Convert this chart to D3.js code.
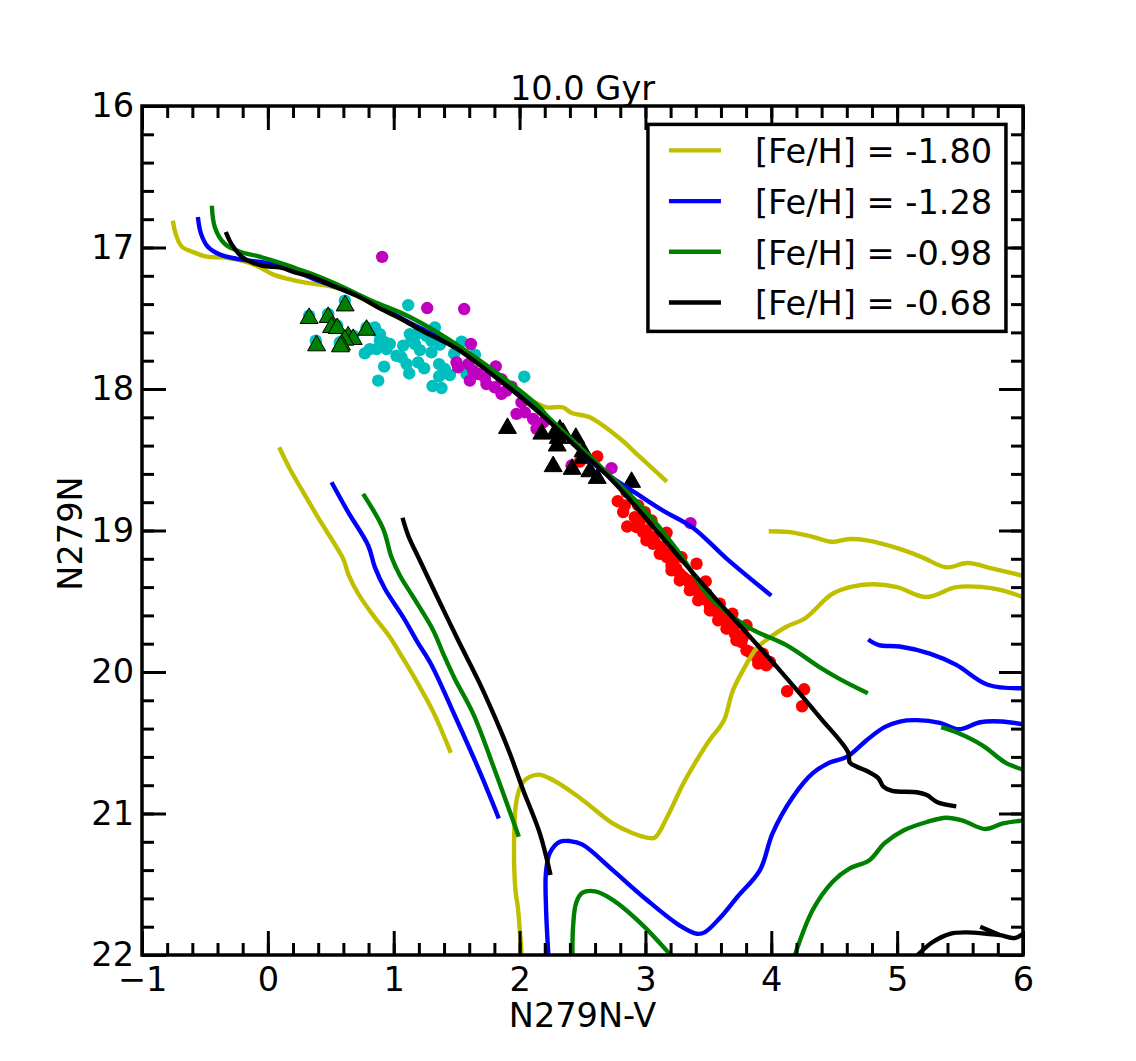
<!DOCTYPE html>
<html>
<head>
<meta charset="utf-8">
<script src="https://cdn.jsdelivr.net/npm/d3@7"></script>
<style>
  html, body { margin: 0; background: #fff; }
  text { font-family: "DejaVu Sans", sans-serif; fill: #000; }
</style>
</head>
<body>
<div id="chart"></div>
<script>
// isochrones, [colour index, magnitude]
const feh180Ms = [[0.09,18.412],[0.175,18.565],[0.281,18.729],[0.413,18.929],[0.546,19.118],[0.604,19.212],[0.638,19.306],[0.718,19.447],[0.837,19.6],[0.969,19.753],[1.075,19.906],[1.181,20.065],[1.313,20.28],[1.454,20.572]];
const feh180Main = [[-0.755,16.81],[-0.73,16.91],[-0.683,16.995],[-0.6,17.03],[-0.485,17.065],[-0.357,17.07],[-0.222,17.09],[-0.087,17.13],[0.04,17.19],[0.15,17.22],[0.31,17.25],[0.47,17.27],[0.63,17.31],[0.89,17.43],[1.23,17.58],[1.5,17.7],[1.764,17.87],[2.0,18.04],[2.137,18.1],[2.217,18.13],[2.344,18.13],[2.415,18.17],[2.558,18.2],[2.797,18.35],[2.956,18.48],[3.17,18.654]];
const feh180Low = [[2.018,22.02],[1.986,21.66],[1.967,21.54],[1.957,21.165],[1.976,20.906],[2.029,20.776],[2.148,20.725],[2.268,20.765],[2.48,20.89],[2.74,21.07],[2.9,21.14],[3.01,21.17],[3.075,21.17],[3.17,21.03],[3.3,20.79],[3.41,20.62],[3.51,20.48],[3.59,20.39],[3.63,20.33],[3.695,20.13],[3.774,19.99],[3.885,19.83],[3.99,19.755],[4.12,19.68],[4.27,19.62],[4.425,19.49],[4.49,19.445],[4.65,19.395],[4.81,19.38],[5.0,19.4],[5.23,19.47],[5.47,19.4],[5.68,19.4],[5.82,19.42],[6.0,19.47]];
const feh180Up = [[3.98,19.005],[4.13,19.01],[4.31,19.04],[4.48,19.08],[4.62,19.06],[4.76,19.07],[5.02,19.13],[5.2,19.19],[5.39,19.26],[5.56,19.23],[5.76,19.27],[6.0,19.32]];

const feh128Ms = [[0.506,18.659],[0.638,18.87],[0.797,19.106],[0.85,19.259],[0.93,19.412],[1.075,19.612],[1.19,19.79],[1.3,19.95],[1.472,20.282],[1.684,20.706],[1.835,21.035]];
const feh128Main = [[-0.556,16.785],[-0.532,16.9],[-0.477,16.995],[-0.381,17.05],[-0.246,17.08],[0.04,17.115],[0.175,17.15],[0.358,17.22],[0.572,17.29],[0.834,17.39],[1.104,17.52],[1.367,17.64],[1.5,17.71],[1.764,17.88],[2.16,18.16],[2.48,18.43],[2.558,18.506],[2.74,18.63],[2.93,18.74],[3.14,18.86],[3.377,18.98],[3.647,19.2],[4.0,19.46]];
const feh128Low = [[2.23,22.02],[2.21,21.66],[2.209,21.423],[2.24,21.28],[2.32,21.2],[2.4,21.195],[2.5,21.22],[2.74,21.4],[3.01,21.61],[3.27,21.79],[3.41,21.85],[3.47,21.84],[3.59,21.74],[3.73,21.59],[3.91,21.4],[4.01,21.14],[4.17,20.885],[4.33,20.715],[4.465,20.64],[4.6,20.6],[4.76,20.48],[4.9,20.39],[5.02,20.35],[5.156,20.34],[5.34,20.36],[5.49,20.405],[5.66,20.355],[5.83,20.35],[6.0,20.37]];
const feh128Up = [[4.77,19.77],[4.855,19.81],[5.02,19.82],[5.26,19.87],[5.47,19.95],[5.72,20.09],[6.0,20.115]];

const feh098Ms = [[0.757,18.741],[0.916,18.988],[0.982,19.188],[1.049,19.318],[1.155,19.47],[1.314,19.706],[1.393,19.87],[1.486,20.05],[1.631,20.294],[1.803,20.694],[1.994,21.165]];
const feh098Main = [[-0.445,16.705],[-0.42,16.86],[-0.342,16.975],[-0.222,17.03],[-0.087,17.06],[0.12,17.115],[0.23,17.15],[0.358,17.19],[0.548,17.26],[0.834,17.38],[1.104,17.48],[1.367,17.61],[1.63,17.765],[1.9,17.94],[2.16,18.13],[2.217,18.19],[2.48,18.41],[2.74,18.63],[3.01,18.87],[3.27,19.16],[3.51,19.47],[3.83,19.69],[4.12,19.81],[4.386,19.967],[4.545,20.05],[4.767,20.15]];
const feh098Low = [[2.42,22.02],[2.425,21.8],[2.45,21.63],[2.5,21.56],[2.6,21.55],[2.74,21.61],[2.98,21.79],[3.19,21.99],[3.22,22.02]];
const feh098Low2 = [[4.18,22.02],[4.33,21.68],[4.49,21.48],[4.62,21.39],[4.78,21.33],[4.9,21.21],[5.05,21.12],[5.236,21.06],[5.39,21.03],[5.52,21.05],[5.7,21.11],[5.84,21.07],[6.0,21.05]];
const feh098Up = [[5.35,20.39],[5.48,20.43],[5.68,20.52],[5.86,20.64],[6.0,20.69]];

const feh068Ms = [[1.07,18.91],[1.115,19.035],[1.208,19.212],[1.34,19.459],[1.512,19.776],[1.684,20.082],[1.843,20.4],[1.923,20.576],[2.029,20.835],[2.161,21.141],[2.246,21.435]];
const feh068Main = [[-0.334,16.89],[-0.286,16.98],[-0.2,17.07],[-0.04,17.13],[0.095,17.14],[0.23,17.18],[0.358,17.21],[0.516,17.27],[0.707,17.34],[0.89,17.43],[1.05,17.5],[1.23,17.59],[1.5,17.715],[1.764,17.885],[2.16,18.17],[2.48,18.435],[2.74,18.65],[3.01,18.92],[3.27,19.19],[3.536,19.46],[3.8,19.72],[4.07,19.99],[4.386,20.32],[4.61,20.567],[4.624,20.64],[4.68,20.67],[4.76,20.7],[4.85,20.75],[4.89,20.81],[4.96,20.84],[5.156,20.85],[5.236,20.87],[5.32,20.92],[5.47,20.95]];
const feh068Low = [[5.14,22.02],[5.28,21.91],[5.42,21.85],[5.55,21.84],[5.71,21.85],[5.82,21.86],[5.935,21.88],[6.0,21.85]];
const feh068Up = [[5.66,21.8],[5.82,21.86]];

// star samples
const cyanStars = [[1.115,17.407],[1.327,17.565],[0.85,17.565],[0.89,17.612],[0.89,17.659],[0.93,17.67],[0.969,17.682],[0.81,17.718],[0.77,17.748],[0.863,17.718],[0.943,17.718],[1.022,17.765],[1.062,17.776],[1.075,17.694],[1.128,17.612],[1.181,17.612],[1.141,17.659],[1.168,17.682],[1.208,17.725],[1.3,17.741],[1.367,17.687],[1.26,17.624],[0.924,17.842],[0.877,17.941],[1.102,17.824],[1.123,17.89],[1.194,17.812],[1.242,17.854],[1.361,17.824],[1.406,17.859],[1.446,17.901],[1.361,17.91],[1.308,17.979],[1.38,17.993],[1.539,17.666],[1.645,17.758],[1.578,17.894],[2.037,17.913],[0.612,17.376],[0.328,17.482],[0.479,17.47],[0.551,17.55],[0.678,17.623],[0.784,17.565],[0.381,17.659],[0.572,17.67],[1.22,17.6],[1.3,17.66],[1.48,17.75]];
const magentaStars = [[0.908,17.066],[1.266,17.428],[1.56,17.435],[1.613,17.682],[1.499,17.812],[1.512,17.847],[1.592,17.824],[1.631,17.871],[1.671,17.894],[1.605,17.941],[1.724,17.918],[1.737,17.965],[1.811,17.84],[1.856,17.93],[1.803,17.988],[1.856,18.035],[1.896,18.012],[1.936,17.984],[2.015,18.094],[1.976,18.176],[2.042,18.165],[2.108,18.212],[2.135,18.282],[2.188,18.235],[2.413,18.541],[2.73,18.56],[3.358,18.948]];
const redStars = [[2.617,18.477],[2.479,18.513],[2.85,18.729],[2.78,18.793],[2.836,18.823],[2.823,18.87],[2.942,18.823],[2.995,18.87],[3.048,18.929],[2.855,18.972],[2.916,18.906],[2.955,18.976],[2.982,19.012],[3.035,19.07],[3.075,19.082],[3.168,19.016],[3.141,19.153],[3.168,19.188],[3.22,19.212],[3.286,19.188],[3.406,19.235],[3.246,19.27],[3.273,19.306],[3.313,19.341],[3.353,19.376],[3.479,19.36],[3.406,19.423],[3.459,19.482],[3.512,19.529],[3.591,19.517],[3.591,19.6],[3.656,19.682],[3.691,19.588],[3.71,19.729],[3.763,19.788],[3.803,19.67],[3.829,19.859],[3.896,19.941],[3.96,19.953],[3.988,19.929],[3.933,19.87],[4.126,20.136],[4.261,20.122],[4.245,20.242],[2.956,18.929],[3.008,19.0],[3.061,19.047],[3.128,19.117],[3.18,19.165],[3.207,19.247],[3.3,19.329],[3.379,19.353],[3.419,19.412],[3.485,19.447],[3.538,19.565],[3.631,19.623],[3.671,19.647],[3.697,19.694],[3.737,19.741],[3.776,19.753],[3.882,19.894],[3.909,19.918],[3.114,19.165],[3.207,19.282],[3.273,19.353],[3.353,19.423],[3.419,19.494],[3.512,19.565],[3.578,19.635],[3.644,19.694],[3.723,19.776],[3.803,19.847],[2.929,18.976],[3.008,19.07],[3.061,19.094]];
const greenTriangles = [[0.614,17.393],[0.328,17.482],[0.479,17.475],[0.506,17.546],[0.551,17.553],[0.638,17.612],[0.678,17.63],[0.612,17.635],[0.585,17.67],[0.577,17.682],[0.387,17.675],[0.784,17.565]];
const blackTriangles = [[1.904,18.259],[2.177,18.299],[2.28,18.294],[2.32,18.27],[2.346,18.294],[2.299,18.383],[2.307,18.329],[2.447,18.329],[2.505,18.423],[2.505,18.47],[2.267,18.529],[2.418,18.548],[2.558,18.565],[2.617,18.612],[2.89,18.64]];

const xMajor = [-1, 0, 1, 2, 3, 4, 5, 6];
const yMajor = [16, 17, 18, 19, 20, 21, 22];
const xMinor = d3.range(-1, 6.001, 0.2);
const yMinor = d3.range(16, 22.001, 0.2);

const legendLabels = ["[Fe/H] = -1.80", "[Fe/H] = -1.28", "[Fe/H] = -0.98", "[Fe/H] = -0.68"];
const lineColors = ["#bfbf00", "#0000ff", "#008000", "#000000"];
const lineGroups = [
  [feh180Ms, feh180Main, feh180Low, feh180Up],
  [feh128Ms, feh128Main, feh128Low, feh128Up],
  [feh098Ms, feh098Main, feh098Low, feh098Low2, feh098Up],
  [feh068Ms, feh068Main, feh068Low, feh068Up]
];

const margin = { top: 106, right: 113, bottom: 106, left: 142 };
const width = 1136 - margin.left - margin.right;
const height = 1061 - margin.top - margin.bottom;
const fontSize = "33.6px";

const svg = d3.select("#chart").append("svg")
  .attr("width", 1136)
  .attr("height", 1061)
  .style("display", "block");

const g = svg.append("g").attr("transform", `translate(${margin.left},${margin.top})`);

g.append("clipPath").attr("id", "plot-clip")
  .append("rect").attr("width", width).attr("height", height);

const x = d3.scaleLinear().domain([-1, 6]).range([0, width]);
const y = d3.scaleLinear().domain([16, 22]).range([0, height]);

const plot = g.append("g").attr("clip-path", "url(#plot-clip)");

function dots(points, colour) {
  plot.append("g").selectAll("circle").data(points).enter().append("circle")
    .attr("cx", d => x(d[0]))
    .attr("cy", d => y(d[1]))
    .attr("r", 6.2)
    .attr("fill", colour);
}

// d3 centres the triangle on its centroid, matplotlib on half its height
const trianglePath = d3.symbol().type(d3.symbolTriangle).size(140);
function triangles(points, colour) {
  plot.append("g").selectAll("path").data(points).enter().append("path")
    .attr("d", trianglePath)
    .attr("transform", d => `translate(${x(d[0])},${y(d[1]) + 2.6})`)
    .attr("fill", colour)
    .attr("stroke", "#000")
    .attr("stroke-width", 1);
}

dots(cyanStars, "#00bfbf");
triangles(greenTriangles, "#008000");
dots(magentaStars, "#bf00bf");
dots(redStars, "#ff0000");
triangles(blackTriangles, "#000000");

const line = d3.line()
  .x(d => x(d[0]))
  .y(d => y(d[1]))
  .curve(d3.curveCatmullRom.alpha(0.5));

lineGroups.forEach((group, i) => {
  group.forEach(points => {
    plot.append("path")
      .attr("d", line(points))
      .attr("fill", "none")
      .attr("stroke", lineColors[i])
      .attr("stroke-width", 4.4);
  });
});

// ticks point inward on all four sides
function styleAxis(sel) {
  sel.select(".domain").remove();
  sel.selectAll("line").attr("stroke", "#000").attr("stroke-width", 3);
  sel.selectAll("text").style("font-size", fontSize);
}

const noLabel = () => "";

g.append("g").attr("transform", `translate(0,${height})`)
  .call(d3.axisBottom(x).tickValues(xMinor).tickSize(-12).tickFormat(noLabel)).call(styleAxis);
g.append("g")
  .call(d3.axisTop(x).tickValues(xMinor).tickSize(-12).tickFormat(noLabel)).call(styleAxis);
g.append("g")
  .call(d3.axisLeft(y).tickValues(yMinor).tickSize(-12).tickFormat(noLabel)).call(styleAxis);
g.append("g").attr("transform", `translate(${width},0)`)
  .call(d3.axisRight(y).tickValues(yMinor).tickSize(-12).tickFormat(noLabel)).call(styleAxis);

g.append("g").attr("transform", `translate(0,${height})`)
  .call(d3.axisBottom(x).tickValues(xMajor).tickSize(-24).tickPadding(9).tickFormat(d3.format("d"))).call(styleAxis)
  .selectAll("text").attr("dy", "0.8em");
g.append("g")
  .call(d3.axisTop(x).tickValues(xMajor).tickSize(-24).tickFormat(noLabel)).call(styleAxis);
g.append("g")
  .call(d3.axisLeft(y).tickValues(yMajor).tickSize(-24).tickPadding(8).tickFormat(d3.format("d"))).call(styleAxis);
g.append("g").attr("transform", `translate(${width},0)`)
  .call(d3.axisRight(y).tickValues(yMajor).tickSize(-24).tickFormat(noLabel)).call(styleAxis);

g.append("rect")
  .attr("width", width)
  .attr("height", height)
  .attr("fill", "none")
  .attr("stroke", "#000")
  .attr("stroke-width", 3.5);

// titles
g.append("text")
  .attr("x", width / 2)
  .attr("y", -6)
  .attr("text-anchor", "middle")
  .style("font-size", fontSize)
  .text("10.0 Gyr");

g.append("text")
  .attr("x", width / 2)
  .attr("y", height + 72)
  .attr("text-anchor", "middle")
  .style("font-size", fontSize)
  .text("N279N-V");

g.append("text")
  .attr("transform", `translate(-60,${height / 2 + 3}) rotate(-90)`)
  .attr("text-anchor", "middle")
  .style("font-size", fontSize)
  .text("N279N");

// legend box sits on top of everything in the plot
const legend = g.append("g").attr("transform", `translate(${x(3.02)},${y(16.13)})`);

legend.append("rect")
  .attr("width", 358)
  .attr("height", 207)
  .attr("fill", "#fff")
  .attr("stroke", "#000")
  .attr("stroke-width", 3.5);

legendLabels.forEach((label, i) => {
  const rowY = 26 + i * 50.7;
  legend.append("line")
    .attr("x1", 21).attr("x2", 73)
    .attr("y1", rowY).attr("y2", rowY)
    .attr("stroke", lineColors[i])
    .attr("stroke-width", 4.4);
  legend.append("text")
    .attr("x", 107)
    .attr("y", rowY + 13)
    .style("font-size", fontSize)
    .text(label);
});
</script>
</body>
</html>
